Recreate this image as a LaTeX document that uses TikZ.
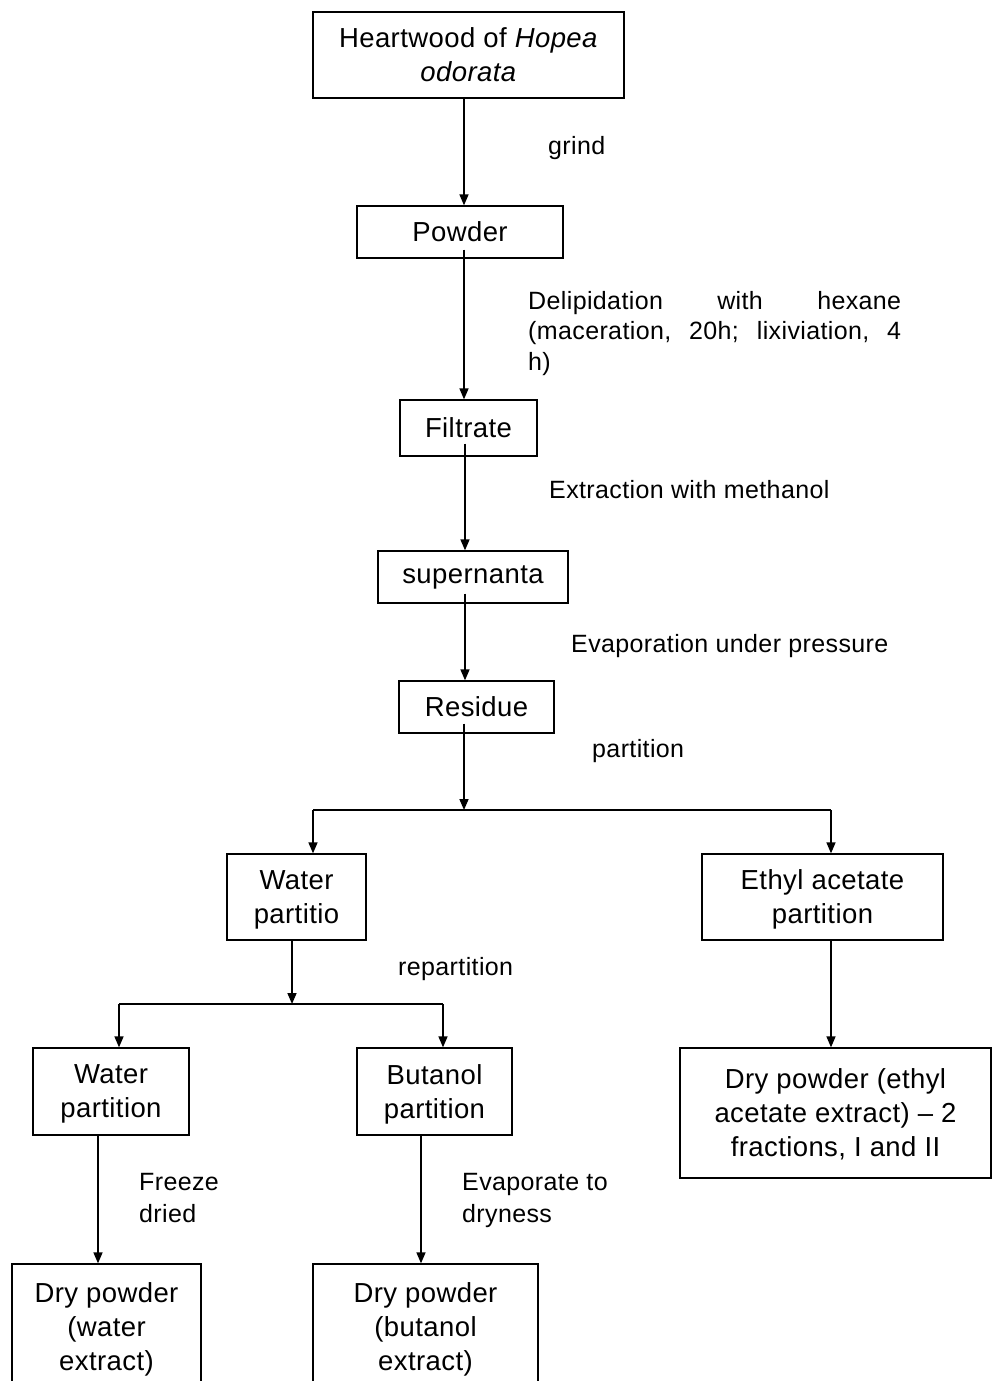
\documentclass[tikz,border=0pt]{standalone}
\usepackage{fontspec}
\setmainfont{Liberation Sans}[LetterSpace=1.5]
\usetikzlibrary{arrows.meta}
\newcommand\boxfont{\fontsize{27.5}{34}\selectfont}
\newcommand\lblfont{\fontsize{25}{30.5}\selectfont}
\tikzset{
  box/.style={draw, line width=1.3pt, inner sep=0pt, align=center, font=\boxfont},
  mbox/.style={box, text depth=0pt},
  arr/.style={line width=1.6pt, -{Triangle[length=11pt,width=9pt]}},
  lbl/.style={inner sep=0pt, font=\lblfont, anchor=base west},
}
\begin{document}
\begin{tikzpicture}[x=1pt,y=-1pt]
\path[use as bounding box] (0,0) rectangle (992,1381);
\clip (0,0) rectangle (992,1381);
% boxes
\node[mbox, minimum width=311pt, minimum height=86pt] (heart) at (468.5,55) {Heartwood of \textit{Hopea}\\\textit{odorata}};
\node[box, minimum width=206pt, minimum height=52pt] (powder) at (460,232) {Powder};
\node[box, minimum width=137pt, minimum height=56pt] (filtrate) at (468.5,428) {Filtrate};
\node[box, minimum width=190pt, minimum height=52pt] (super) at (473,577) {supernanta};
\node[box, minimum width=155pt, minimum height=52pt] (residue) at (476.5,707) {Residue};
\node[mbox, minimum width=139pt, minimum height=86pt] (wp1) at (296.5,897) {Water\\partitio};
\node[mbox, minimum width=241pt, minimum height=86pt] (ethyl) at (822.5,897) {Ethyl acetate\\partition};
\node[mbox, minimum width=156pt, minimum height=87pt] (wp2) at (111,1091.5) {Water\\partition};
\node[mbox, minimum width=155pt, minimum height=87pt] (but) at (434.5,1091.5) {Butanol\\partition};
\node[mbox, minimum width=311pt, minimum height=130pt] (dryE) at (835.5,1113) {Dry powder (ethyl\\acetate extract) -- 2\\fractions, I and II};
\node[mbox, minimum width=189pt, minimum height=126pt] (dryW) at (106.5,1327) {Dry powder\\(water\\extract)};
\node[mbox, minimum width=225pt, minimum height=126pt] (dryB) at (425.5,1327) {Dry powder\\(butanol\\extract)};
% column coordinates
\coordinate (cA) at (464,0);
\coordinate (cB) at (465,0);
\coordinate (j1) at (464,810);
\coordinate (L1) at (313,810);
\coordinate (R1) at (831,810);
\coordinate (j2) at (292,1004);
\coordinate (L2) at (119,1004);
\coordinate (R2) at (443,1004);
\coordinate (cW) at (98,0);
\coordinate (cBu) at (421,0);
% connectors
\draw[arr] (heart.south -| cA) -- (powder.north -| cA);
\draw[arr] ([yshift=9pt]powder.south -| cA) -- (filtrate.north -| cA);
\draw[arr] ([yshift=13pt]filtrate.south -| cB) -- (super.north -| cB);
\draw[arr] ([yshift=10pt]super.south -| cB) -- (residue.north -| cB);
\draw[arr] ([yshift=10pt]residue.south -| j1) -- (j1);
\draw[line width=1.6pt] (L1) -- (R1);
\draw[arr] (L1) -- (wp1.north -| L1);
\draw[arr] (R1) -- (ethyl.north -| R1);
\draw[arr] (wp1.south -| j2) -- (j2);
\draw[line width=1.6pt] (L2) -- (R2);
\draw[arr] (L2) -- (wp2.north -| L2);
\draw[arr] (R2) -- (but.north -| R2);
\draw[arr] (ethyl.south -| R1) -- (dryE.north -| R1);
\draw[arr] (wp2.south -| cW) -- (dryW.north -| cW);
\draw[arr] (but.south -| cBu) -- (dryB.north -| cBu);
% labels
\node[lbl] (tgrind) at (548,154) {grind};
\node[inner sep=0pt, font=\lblfont, anchor=north west, text width=373pt, align=left] (tdelip) at (528,291) {Delipidation\hfill with\hfill hexane\\(maceration,\hfill 20h;\hfill lixiviation,\hfill 4\\h)};
\node[lbl] (textr) at (549,498) {Extraction with methanol};
\node[lbl] (tevap) at (571,652) {Evaporation under pressure};
\node[lbl] (tpart) at (592,757) {partition};
\node[lbl] (trepart) at (398,975) {repartition};
\node[lbl] (tfreeze) at (139,1190) {Freeze};
\node[lbl] (tdried) at (139,1222) {dried};
\node[lbl] (tevap2) at (462,1190) {Evaporate to};
\node[lbl] (tdry) at (462,1222) {dryness};
\end{tikzpicture}
\end{document}
